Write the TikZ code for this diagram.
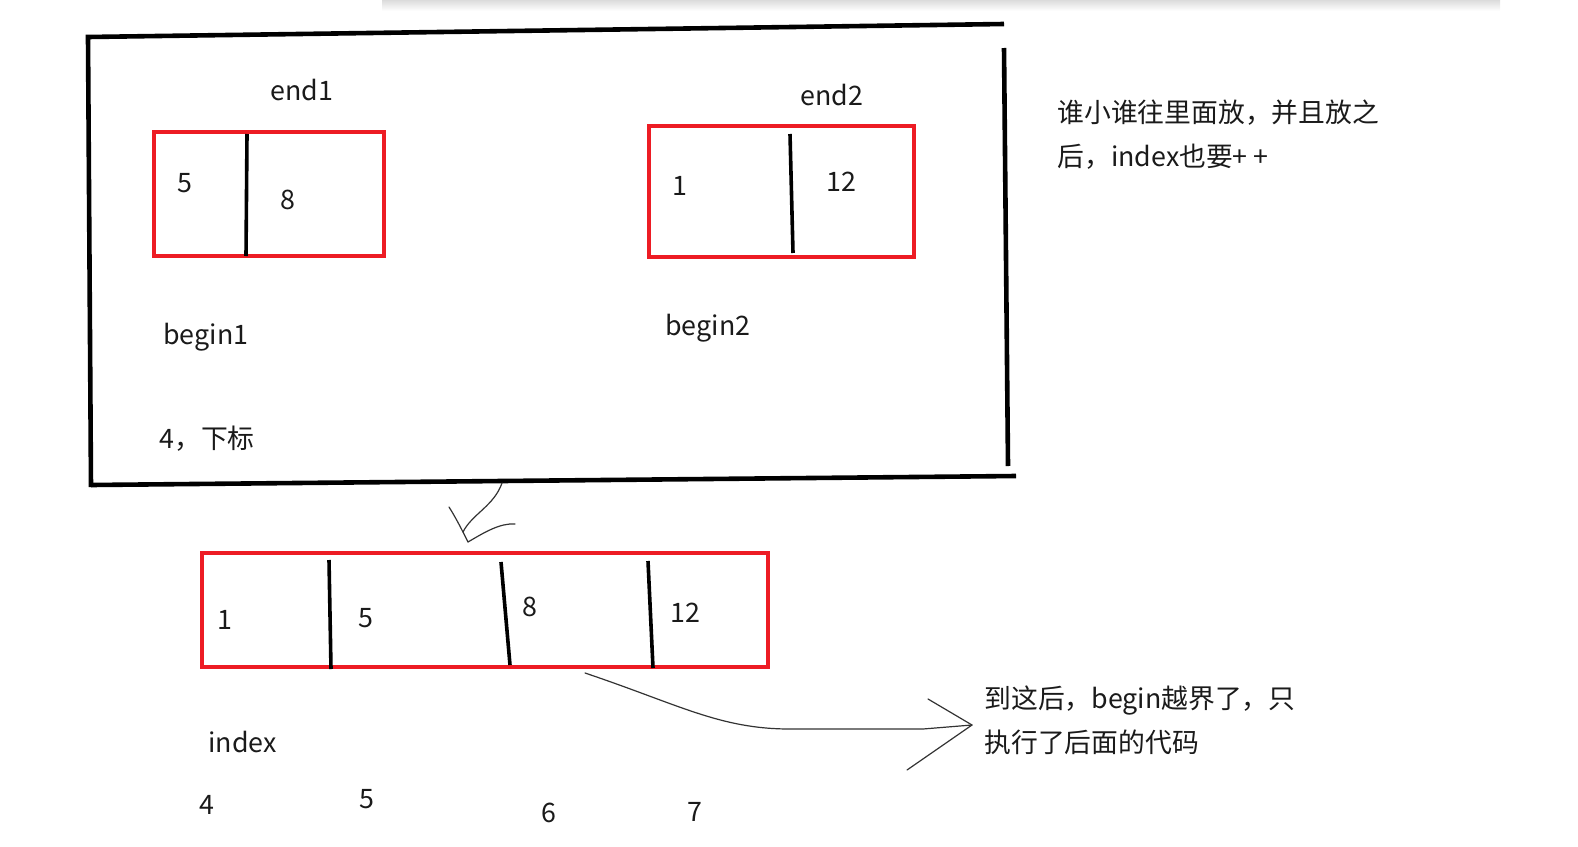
\documentclass[tikz,border=0pt]{standalone}
\usepackage{fontspec}
\setmainfont{Noto Sans CJK SC}
\definecolor{paintred}{RGB}{237,28,36}
\definecolor{ink}{RGB}{26,26,26}

\begin{document}
\begin{tikzpicture}[x=0.5pt, y=-0.5pt,
    frame/.style={line width=2.3pt, black},
    redbox/.style={draw=paintred, line width=1.6pt},
    divider/.style={line width=1.8pt, black},
    lbl/.style={text=ink, inner sep=0pt, font=\fontsize{13.4}{22}\selectfont},
    note/.style={lbl, anchor=west, align=left},
    sketch/.style={line width=0.6pt, black!80, line cap=round, line join=round}]
    \useasboundingbox (0,0) rectangle (1578,846);
    % shadow of the window above
    \shade[top color=black!14, bottom color=white] (382,0) rectangle (1500,11);
    % big frame
    \draw[frame] (1004,24) -- (88,37) -- (91,487);
    \draw[frame] (91,485) -- (1016,476);
    \draw[frame] (1004,48) -- (1008,466);
    % first pair
    \draw[redbox] (154,132) rectangle (384,256);
    \draw[divider] (247,134) -- (246,256);
    \draw[redbox] (649,126) rectangle (914,257);
    \draw[divider] (790,134) -- (793,253);
    \node[lbl] (end1) at (302,90) {end1};
    \node[lbl] (a5) at (185,183) {5};
    \node[lbl] (a8) at (288,200) {8};
    \node[lbl] (end2) at (832,95) {end2};
    \node[lbl] (b1) at (680,186) {1};
    \node[lbl] (b12) at (841,182) {12};
    \node[lbl, anchor=west] (begin1) at (163,337) {begin1};
    \node[lbl, anchor=west] (begin2) at (665,328) {begin2};
    \node[lbl, anchor=west] (sub) at (159,439) {4，下标};
    % merged array
    \draw[redbox] (202,553) rectangle (768,667);
    \draw[divider] (329,560) -- (331,669);
    \draw[divider] (501,562) -- (510,665);
    \draw[divider] (648,561) -- (653,668);
    \node[lbl] (m1) at (225,620) {1};
    \node[lbl] (m5) at (366,618) {5};
    \node[lbl] (m8) at (530,607) {8};
    \node[lbl] (m12) at (685,613) {12};
    \node[lbl, anchor=west] (index) at (208,742) {index};
    \node[lbl] (i4) at (207,805) {4};
    \node[lbl] (i5) at (367,799) {5};
    \node[lbl] (i6) at (549,813) {6};
    \node[lbl] (i7) at (695,812) {7};
    % notes
    \node[note] (rule) at (1057,135) {谁小谁往里面放，并且放之\\后，index也要+\kern3pt+};
    \node[note] (rest) at (984,720) {到这后，begin越界了，只\\执行了后面的代码};
    % hand drawn arrows
    \coordinate (down) at (502,483);
    \coordinate (downtip) at (468,542);
    \draw[sketch] (down) .. controls (494,506) and (472,514) .. (463,532);
    \draw[sketch] (449,507) .. controls (456,518) and (462,530) .. (downtip)
        .. controls (485,532) and (500,523) .. (515,524);
    \coordinate (out) at (585,673);
    \coordinate (outtip) at (972,725);
    \draw[sketch] (out) .. controls (680,705) and (720,729) .. (790,729)
        -- (923,729) -- (outtip);
    \draw[sketch] (928,699) -- (outtip) -- (907,770);
\end{tikzpicture}
\end{document}
